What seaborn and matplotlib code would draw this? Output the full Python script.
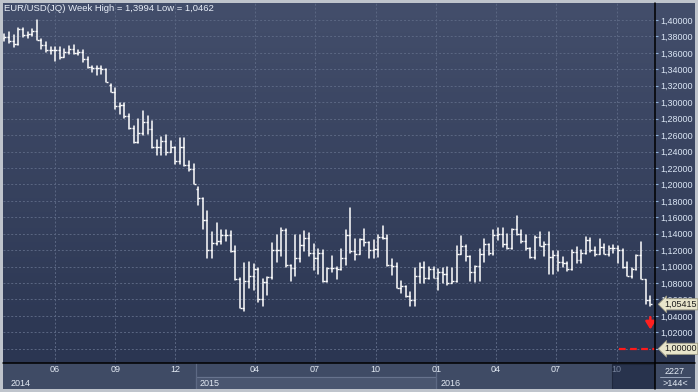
import numpy as np
import pandas as pd
import matplotlib
matplotlib.use("Agg")
import matplotlib.pyplot as plt
import matplotlib.dates as mdates
from matplotlib.lines import Line2D
from matplotlib.patches import Rectangle
from matplotlib.colors import LinearSegmentedColormap
import seaborn as sns

# weekly EUR/USD bars, first bar week of 2014-03-17
title = "EUR/USD(JQ) Week High = 1,3994 Low = 1,0462"
first_week = "2014-03-17"

opens = [1.3775, 1.3790, 1.3750, 1.3705, 1.3885, 1.3815, 1.3830, 1.3870, 1.3760, 1.3700,
         1.3630, 1.3635, 1.3640, 1.3545, 1.3610, 1.3645, 1.3595, 1.3605, 1.3525, 1.3430,
         1.3410, 1.3415, 1.3400, 1.3205, 1.3130, 1.2950, 1.2960, 1.2830, 1.2685, 1.2520,
         1.2630, 1.2760, 1.2670, 1.2450, 1.2450, 1.2525, 1.2390, 1.2450, 1.2285, 1.2460,
         1.2230, 1.2185, 1.1940, 1.1840, 1.1565, 1.1205, 1.1290, 1.1315, 1.1385, 1.1380,
         1.1195, 1.0845, 1.0495, 1.0825, 1.0890, 1.0970, 1.0600, 1.0810, 1.0870, 1.1200,
         1.1200, 1.1450, 1.1015, 1.0985, 1.1110, 1.1265, 1.1350, 1.1165, 1.1110, 1.1160,
         1.0830, 1.0985, 1.0985, 1.0970, 1.1100, 1.1380, 1.1185, 1.1150, 1.1340, 1.1300,
         1.1205, 1.1210, 1.1360, 1.1350, 1.1015, 1.1005, 1.0740, 1.0765, 1.0645, 1.0595,
         1.0885, 1.0990, 1.0865, 1.0965, 1.0860, 1.0930, 1.0915, 1.0795, 1.0830, 1.1155,
         1.1255, 1.1130, 1.0935, 1.1010, 1.1150, 1.1270, 1.1165, 1.1390, 1.1400, 1.1280,
         1.1225, 1.1455, 1.1400, 1.1310, 1.1225, 1.1115, 1.1355, 1.1255, 1.1275, 1.1115,
         1.1140, 1.1050, 1.1045, 1.0975, 1.1175, 1.1085, 1.1160, 1.1325, 1.1200, 1.1155,
         1.1235, 1.1155, 1.1225, 1.1225, 1.1200, 1.0995, 1.0885, 1.0975, 1.1140, 1.0855,
         1.0590]
highs = [1.3830, 1.3858, 1.3817, 1.3906, 1.3905, 1.3855, 1.3890, 1.3994, 1.3765, 1.3733,
         1.3670, 1.3670, 1.3676, 1.3645, 1.3680, 1.3700, 1.3640, 1.3630, 1.3545, 1.3445,
         1.3445, 1.3445, 1.3400, 1.3220, 1.3170, 1.2990, 1.2995, 1.2860, 1.2705, 1.2790,
         1.2887, 1.2835, 1.2775, 1.2535, 1.2575, 1.2600, 1.2530, 1.2460, 1.2570, 1.2570,
         1.2290, 1.2250, 1.1970, 1.1840, 1.1680, 1.1425, 1.1535, 1.1450, 1.1450, 1.1430,
         1.1245, 1.0860, 1.1045, 1.1050, 1.1035, 1.0980, 1.0850, 1.0875, 1.1290, 1.1390,
         1.1465, 1.1460, 1.1025, 1.1380, 1.1390, 1.1435, 1.1410, 1.1280, 1.1215, 1.1200,
         1.0985, 1.1130, 1.0990, 1.1215, 1.1440, 1.1715, 1.1330, 1.1340, 1.1460, 1.1300,
         1.1320, 1.1390, 1.1495, 1.1390, 1.1095, 1.1045, 1.0825, 1.0765, 1.0690, 1.0980,
         1.1045, 1.1060, 1.0990, 1.0990, 1.0970, 1.0985, 1.0990, 1.0985, 1.1245, 1.1375,
         1.1260, 1.1130, 1.1010, 1.1220, 1.1340, 1.1275, 1.1440, 1.1465, 1.1465, 1.1395,
         1.1455, 1.1615, 1.1450, 1.1380, 1.1230, 1.1375, 1.1415, 1.1295, 1.1425, 1.1185,
         1.1185, 1.1120, 1.1050, 1.1200, 1.1235, 1.1200, 1.1365, 1.1345, 1.1240, 1.1330,
         1.1275, 1.1255, 1.1260, 1.1255, 1.1210, 1.1060, 1.0985, 1.1145, 1.1300, 1.0840,
         1.0645]
lows = [1.3750, 1.3724, 1.3673, 1.3700, 1.3790, 1.3785, 1.3800, 1.3755, 1.3648, 1.3615,
        1.3585, 1.3503, 1.3525, 1.3545, 1.3590, 1.3590, 1.3575, 1.3490, 1.3420, 1.3366,
        1.3335, 1.3345, 1.3240, 1.3130, 1.2920, 1.2860, 1.2810, 1.2670, 1.2500, 1.2500,
        1.2600, 1.2615, 1.2440, 1.2357, 1.2360, 1.2360, 1.2390, 1.2245, 1.2250, 1.2220,
        1.2165, 1.2000, 1.1755, 1.1460, 1.1100, 1.1100, 1.1260, 1.1270, 1.1315, 1.1175,
        1.0840, 1.0495, 1.0462, 1.0745, 1.0710, 1.0565, 1.0520, 1.0660, 1.0850, 1.1050,
        1.1130, 1.0990, 1.0820, 1.0885, 1.1050, 1.1190, 1.1135, 1.0955, 1.0915, 1.0810,
        1.0810, 1.0940, 1.0850, 1.0960, 1.1015, 1.1160, 1.1085, 1.1150, 1.1245, 1.1105,
        1.1105, 1.1120, 1.1330, 1.1005, 1.0895, 1.0740, 1.0675, 1.0630, 1.0525, 1.0525,
        1.0800, 1.0800, 1.0850, 1.0860, 1.0710, 1.0805, 1.0780, 1.0795, 1.0810, 1.1155,
        1.1070, 1.0825, 1.0810, 1.0825, 1.1050, 1.1145, 1.1145, 1.1325, 1.1235, 1.1215,
        1.1215, 1.1385, 1.1285, 1.1200, 1.1100, 1.1095, 1.1250, 1.1130, 1.0910, 1.0910,
        1.0950, 1.1000, 1.0950, 1.0955, 1.1045, 1.1045, 1.1150, 1.1175, 1.1125, 1.1155,
        1.1155, 1.1125, 1.1160, 1.1045, 1.0985, 1.0880, 1.0860, 1.0960, 1.0850, 1.0545,
        1.0515]
closes = [1.3790, 1.3750, 1.3705, 1.3885, 1.3815, 1.3830, 1.3870, 1.3760, 1.3700, 1.3630,
          1.3635, 1.3640, 1.3545, 1.3610, 1.3645, 1.3595, 1.3605, 1.3525, 1.3430, 1.3410,
          1.3415, 1.3400, 1.3240, 1.3130, 1.2950, 1.2960, 1.2830, 1.2685, 1.2520, 1.2630,
          1.2760, 1.2670, 1.2450, 1.2450, 1.2525, 1.2390, 1.2450, 1.2285, 1.2460, 1.2230,
          1.2185, 1.2000, 1.1840, 1.1565, 1.1205, 1.1290, 1.1315, 1.1385, 1.1380, 1.1195,
          1.0845, 1.0495, 1.0825, 1.0890, 1.0970, 1.0600, 1.0810, 1.0870, 1.1200, 1.1200,
          1.1450, 1.1015, 1.0985, 1.1110, 1.1265, 1.1350, 1.1165, 1.1110, 1.1160, 1.0830,
          1.0985, 1.0985, 1.0970, 1.1100, 1.1380, 1.1185, 1.1150, 1.1340, 1.1300, 1.1205,
          1.1210, 1.1360, 1.1350, 1.1015, 1.1005, 1.0740, 1.0765, 1.0645, 1.0595, 1.0885,
          1.0990, 1.0865, 1.0965, 1.0860, 1.0930, 1.0915, 1.0795, 1.0830, 1.1155, 1.1255,
          1.1130, 1.0935, 1.1010, 1.1150, 1.1270, 1.1165, 1.1390, 1.1400, 1.1280, 1.1225,
          1.1455, 1.1400, 1.1310, 1.1225, 1.1115, 1.1355, 1.1255, 1.1275, 1.1115, 1.1140,
          1.1050, 1.1045, 1.0975, 1.1175, 1.1085, 1.1160, 1.1325, 1.1200, 1.1155, 1.1235,
          1.1155, 1.1225, 1.1225, 1.1200, 1.0995, 1.0885, 1.0975, 1.1140, 1.0855, 1.0590,
          1.05415]

price_ticks = [1.00, 1.02, 1.04, 1.06, 1.08, 1.10, 1.12, 1.14, 1.16, 1.18, 1.20,
               1.22, 1.24, 1.26, 1.28, 1.30, 1.32, 1.34, 1.36, 1.38, 1.40]
month_labels = ["06", "09", "12", "04", "07", "10", "01", "04", "07"]
month_dates = ["2014-06-01", "2014-09-01", "2014-12-01", "2015-04-01", "2015-07-01",
               "2015-10-01", "2016-01-01", "2016-04-01", "2016-07-01"]
current_label, current_date = "10", "2016-10-01"
year_labels = ["2014", "2015", "2016"]
year_starts = ["2014-01-01", "2015-01-01", "2016-01-01"]
last_price = 1.05415
target_price = 1.00
bars_total, bars_shown = "2227", ">144<"

W, H = 698, 392


def rect(x0, y0, x1, y1):
    return [x0 / W, 1 - y1 / H, (x1 - x0) / W, (y1 - y0) / H]


def fmt(v):
    return f"{v:.5f}".replace(".", ",")


sns.set_style("dark")
plt.rcParams["font.family"] = ["Liberation Sans", "DejaVu Sans"]

dates = pd.date_range(first_week, periods=len(opens), freq="7D")
xs = mdates.date2num(dates)
d0 = xs[0]
px_day = 0.659
xlim = (d0 - 1.5 / px_day, d0 + (652 - 1.5) / px_day)
ylim = (1.40 - 343 / 822, 1.40 + 17 / 822)

grad = LinearSegmentedColormap.from_list("bg", ["#434e6b", "#2b3652"])
gvals = np.linspace(0, 1, 256).reshape(-1, 1)

fig = plt.figure(figsize=(W / 100, H / 100), dpi=100, facecolor="#bfc4cc")

# right price panel
panel = fig.add_axes(rect(655, 3, 695, 363), zorder=0)
panel.imshow(gvals, cmap=grad, extent=[0, 1, 0, 1], aspect="auto")
panel.set_xlim(0, 1)
panel.set_ylim(0, 1)
panel.axis("off")

# main chart
ax = fig.add_axes(rect(3, 3, 655, 363), zorder=2)
ax.imshow(gvals, cmap=grad, extent=[0, 1, 0, 1], transform=ax.transAxes,
          aspect="auto", zorder=0)

bars = pd.DataFrame({
    "date": np.repeat(dates, 2),
    "price": np.column_stack([lows, highs]).ravel(),
    "bar": np.repeat(np.arange(len(opens)), 2),
})
sns.lineplot(data=bars, x="date", y="price", units="bar", estimator=None,
             sort=False, color="white", lw=1.1, legend=False, ax=ax, zorder=3)
ax.hlines(opens, xs - 3, xs, color="white", lw=1.0, zorder=3)
ax.hlines(closes, xs, xs + 3, color="white", lw=1.0, zorder=3)

ax.set_xlim(*xlim)
ax.set_ylim(*ylim)
ax.set_xlabel("")
ax.set_ylabel("")
grid_x = [mdates.date2num(pd.Timestamp(d)) for d in month_dates + [current_date]]
ax.xaxis.set_major_locator(matplotlib.ticker.FixedLocator(grid_x))
ax.tick_params(axis="x", length=0, labelbottom=False)
ax.yaxis.tick_right()
ax.set_yticks(price_ticks)
# the 1,00000 level is shown by its own marker box
ax.set_yticklabels(["" if v == target_price else fmt(v) for v in price_ticks])
ax.tick_params(axis="y", direction="out", length=2, width=0.8, pad=2,
               color="#8fb0d8", labelcolor="#dbe6f5", labelsize=6.5)
ax.grid(True, color="#5b6783", ls=(0, (2, 2)), lw=0.7)
for s in ax.spines.values():
    s.set_visible(False)

ax.text(1 / 652, 0.986, title, transform=ax.transAxes, ha="left", va="center",
        color="#e8eef8", fontsize=6.8, zorder=5)

# price markers
box = dict(boxstyle="larrow,pad=0.12", fc="#e8e5cb", ec="#9d9b86", lw=0.6)
for val in [last_price, target_price]:
    ax.text(1.014, val, fmt(val), transform=ax.get_yaxis_transform(), ha="left",
            va="center", fontsize=6.5, color="#1c1c1c", bbox=box,
            clip_on=False, zorder=10)

ax.hlines(target_price, mdates.date2num(pd.Timestamp("2016-10-05")), xlim[1],
          colors="#ff1a1a", linestyles=(0, (3, 2)), lw=1.6, zorder=4)
ax.annotate("", xy=(xs[-1], 1.0235), xytext=(xs[-1], 1.0385),
            arrowprops=dict(arrowstyle="-|>,head_width=0.28,head_length=0.45",
                            color="#ff2020", lw=1.8, shrinkA=0, shrinkB=0),
            zorder=6)

# date band
band = fig.add_axes(rect(3, 363, 655, 389), zorder=1)
band.set_xlim(*xlim)
band.set_ylim(0, 26)
band.axis("off")
band.add_patch(Rectangle((xlim[0], 0), xlim[1] - xlim[0], 26, color="#3f4b65", zorder=0))
ys = [mdates.date2num(pd.Timestamp(d)) for d in year_starts]
band.add_patch(Rectangle((ys[1], 0), ys[2] - ys[1], 12, color="#4a5670", zorder=1))
band.hlines(12, ys[1], ys[2], color="#67738d", lw=0.8, zorder=2)
band.vlines(ys[1:], 0, 26, color="#5d6984", lw=0.9, zorder=2)
cur_x0 = d0 + (612 - 4.5) / px_day
band.add_patch(Rectangle((cur_x0, 0.5), xlim[1] - cur_x0, 24.5, fc="#28334d",
                         ec="#1f283d", lw=0.8, zorder=3))
for lab, d in zip(month_labels, month_dates):
    band.text(mdates.date2num(pd.Timestamp(d)), 19, lab, ha="center", va="center",
              color="#e3eaf4", fontsize=6.5, zorder=4)
band.text(mdates.date2num(pd.Timestamp(current_date)), 19, current_label,
          ha="center", va="center", color="#76829b", fontsize=6.5, zorder=4)
year_x = [xlim[0] + 8 / px_day, ys[1] + 4 / px_day, ys[2] + 4 / px_day]
for lab, x in zip(year_labels, year_x):
    band.text(x, 6, lab, ha="left", va="center", color="#e3eaf4", fontsize=6.5, zorder=4)

# corner box
corner = fig.add_axes(rect(655, 363, 695, 389), zorder=1)
corner.set_facecolor("#3e4a64")
corner.set_xlim(0, 1)
corner.set_ylim(0, 26)
corner.set_xticks([])
corner.set_yticks([])
for s in corner.spines.values():
    s.set_visible(False)
corner.text(0.5, 18, bars_total, ha="center", va="center", color="#e3eaf4", fontsize=6.5)
corner.plot([0.12, 0.88], [12, 12], color="#9aa6bc", lw=0.7)
corner.text(0.5, 5.5, bars_shown, ha="center", va="center", color="#e3eaf4", fontsize=6.5)

# separator lines
fig.add_artist(Line2D([655 / W, 655 / W], [1 - 3 / H, 1 - 389 / H], color="black",
                      lw=1.1, transform=fig.transFigure, zorder=20))
fig.add_artist(Line2D([3 / W, 695 / W], [1 - 363 / H, 1 - 363 / H], color="black",
                      lw=1.1, transform=fig.transFigure, zorder=20))

fig.savefig("out.png", dpi=100, facecolor=fig.get_facecolor())
